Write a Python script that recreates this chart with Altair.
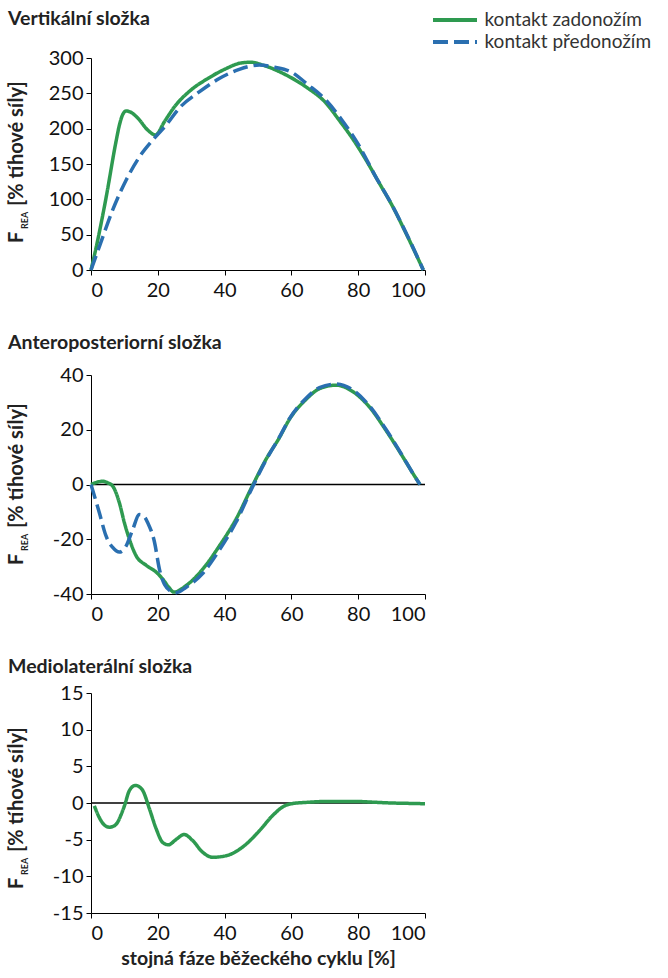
import altair as alt
import pandas as pd

FONT = "Lato"
GREEN = "#2e9a50"
BLUE = "#2a6fb0"
TXT = "#222222"
S1 = "kontakt zadonožím"
S2 = "kontakt předonožím"

# --- Vertikální složka ---
v_green_x = [0, 1.5, 4.5, 7.5, 8.5, 9.5, 10.5, 12, 14, 17, 19.3, 22, 25, 30, 35, 40, 45, 48, 51.4,
             58.4, 64.4, 70.4, 74.3, 78.3, 82.3, 86.3, 90.3, 94.3, 99.5]
v_green_y = [0, 31, 102, 182, 205, 220, 225, 223, 215, 198, 191, 210, 231, 255, 271, 284, 293, 294, 290,
             276, 259, 236, 212, 186, 156, 123, 90, 52, 0]
v_blue_x = [0, 2.5, 6.5, 10.5, 14.5, 18.5, 22.5, 26.4, 32.4, 38.4, 44.4, 50.4, 55, 60, 65, 70, 75, 80,
            85, 90, 95, 99.5]
v_blue_y = [0, 33, 85, 127, 160, 184, 205, 229, 252, 271, 284, 290, 287, 280, 262, 242, 213, 178,
            134, 93, 46, 0]

# --- Anteroposteriorní složka ---
a_green_x = [0, 2, 3.5, 5, 6.5, 8.5, 10, 11.5, 13.5, 16.5, 19.5, 21.5, 23.4, 24.8, 28.4, 33.4, 38.4,
             43.4, 48.4, 52.4, 56.4, 59.4, 64.4, 68.4, 73.4, 78.3, 83.3, 88.3, 93.3, 96.3, 98.5]
a_green_y = [0, 0.9, 1.2, 0.6, -0.6, -6.7, -14, -20, -26, -29.5, -32, -34.6, -37.7, -39.3, -37, -31,
             -22.5, -12.7, -0.3, 9.2, 17.1, 23.8, 31.1, 35, 36.3, 34, 28.4, 19.8, 10.2, 4.2, 0]
a_blue_x = [0, 2.5, 4.5, 6.5, 8.5, 10.5, 12.5, 14.5, 16, 17, 19, 20.5, 22, 24.5, 25.5, 28.4, 33.4,
            38.4, 43.4, 48.4, 52.4, 56.4, 59.4, 64.4, 68.4, 73.4, 78.3, 83.3, 88.3, 93.3, 96.3, 98.5]
a_blue_y = [0, -10.3, -18.8, -23, -24.7, -22.5, -16.4, -11, -11.8, -14, -21, -31, -36.5, -39.3, -39.5,
            -37.6, -32.5, -24, -13.8, -0.8, 8.9, 17.3, 24, 31.5, 35.4, 36.7, 34.6, 28.8, 20.2, 10.4, 4.2, 0]

# --- Mediolaterální složka ---
m_green_x = [1, 2.5, 4, 5.5, 7, 8, 9, 10, 11.5, 13.3, 14.5, 15.5, 17.5, 19.5, 21.5, 23.2, 25.4, 27.9,
             30.4, 33.4, 36.4, 40.4, 45.4, 50.4, 54.4, 57.9, 60, 65, 70, 75, 80, 85, 90, 95, 100]
m_green_y = [-0.4, -2.0, -3.0, -3.3, -3.1, -2.6, -1.6, -0.4, 1.7, 2.4, 2.2, 1.7, -0.8, -3.5, -5.4, -5.7,
             -5.0, -4.3, -5.1, -6.7, -7.4, -7.2, -6.0, -3.8, -1.7, -0.4, -0.1, 0.1, 0.2, 0.2, 0.2, 0.1,
             0.0, -0.05, -0.1]

x_ticks = [0, 20, 40, 60, 80, 100]


def frame(xs, ys, s):
    return pd.DataFrame({"x": xs, "y": ys, "series": s})


color = alt.Color("series:N", scale=alt.Scale(domain=[S1, S2], range=[GREEN, BLUE]),
                  legend=alt.Legend(title=None, labelLimit=400))
dash = alt.StrokeDash("series:N", scale=alt.Scale(domain=[S1, S2], range=[[1, 0], [15, 6]]),
                      legend=alt.Legend(title=None, labelLimit=400))


def panel(title, series, ydom, yticks, height, xtitle, zero, fy, toff):
    xenc = alt.X("x:Q", scale=alt.Scale(domain=[0, 100], nice=False),
                 axis=alt.Axis(values=x_ticks, title=xtitle if xtitle else None,
                               labelOverlap=False))
    yenc = alt.Y("y:Q", scale=alt.Scale(domain=ydom, nice=False),
                 axis=alt.Axis(values=yticks, title=None, labelExpr="'' + datum.value",
                               labelOverlap=False))
    layers = []
    for df in series:
        layers.append(alt.Chart(df).mark_line(strokeWidth=3.5, interpolate="monotone")
                      .encode(x=xenc, y=yenc, color=color, strokeDash=dash))
    if zero:
        layers.insert(0, alt.Chart(pd.DataFrame({"y": [0]})).mark_rule(color="black", strokeWidth=1.3)
                      .encode(y=yenc))
    t = pd.DataFrame({"a": [0]})
    layers.append(alt.Chart(t).mark_text(text="F", angle=270, align="left", baseline="alphabetic",
                                         font=FONT, fontWeight="bold", fontSize=20, color=TXT)
                  .encode(x=alt.value(-68), y=alt.value(fy)))
    layers.append(alt.Chart(t).mark_text(text="REA", angle=270, align="left", baseline="alphabetic",
                                         font=FONT, fontWeight="bold", fontSize=9, color=TXT)
                  .encode(x=alt.value(-63), y=alt.value(fy - 14)))
    layers.append(alt.Chart(t).mark_text(text="[% tíhové síly]", angle=270, align="left",
                                         baseline="alphabetic", font=FONT, fontWeight="bold",
                                         fontSize=20, color=TXT)
                  .encode(x=alt.value(-68), y=alt.value(fy - 37)))
    return alt.layer(*layers).properties(
        width=334, height=height,
        title=alt.TitleParams(title, anchor="start", frame="group", dx=-83, fontSize=19.5,
                              font=FONT, fontWeight="bold", color=TXT, offset=toff))


p1 = panel("Vertikální složka",
           [frame(v_green_x, v_green_y, S1), frame(v_blue_x, v_blue_y, S2)],
           [0, 300], [0, 50, 100, 150, 200, 250, 300], 212, None, False, 185, 19)
p2 = panel("Anteroposteriorní složka",
           [frame(a_green_x, a_green_y, S1), frame(a_blue_x, a_blue_y, S2)],
           [-40, 40], [-40, -20, 0, 20, 40], 219, None, True, 190, 12)
p3 = panel("Mediolaterální složka",
           [frame(m_green_x, m_green_y, S1)],
           [-15, 15], [-15, -10, -5, 0, 5, 10, 15], 220, "stojná fáze běžeckého cyklu [%]", True, 196, 6)

chart = alt.vconcat(p1, p2, p3, spacing=32).properties(
    padding={"left": 7, "top": 8, "right": 5, "bottom": 5}
).configure_view(strokeWidth=0).configure_axis(
    labelFont=FONT, labelFontSize=20, labelColor="#111111", domainColor="black", tickColor="black",
    tickSize=5, grid=False, titleFont=FONT, titleFontSize=19.5, titleFontWeight="bold", titleColor=TXT,
    labelPadding=3, titlePadding=6, labelOverlap=False
).configure_axisX(labelPadding=5).configure_legend(
    orient="none", legendX=354.5, legendY=-47.5, labelFont=FONT, labelFontSize=19, labelColor="#333333",
    symbolType="M-4,0H4", symbolSize=121, symbolStrokeWidth=4, labelOffset=20, rowPadding=2,
    labelLimit=400
)

chart.save("out.html", embed_options={"renderer": "svg", "actions": False})
